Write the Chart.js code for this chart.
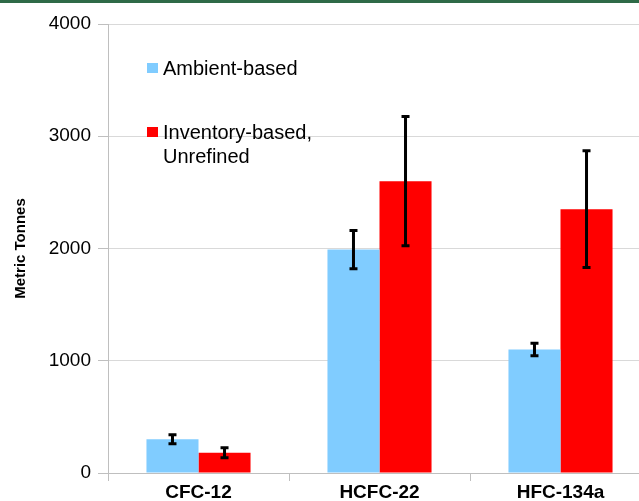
<!DOCTYPE html>
<html lang="en">
<head>
    <meta charset="UTF-8">
    <title>Metric Tonnes</title>
    <script src="https://cdn.jsdelivr.net/npm/chart.js@4.4.0/dist/chart.umd.min.js"></script>
    <style>
        body { margin: 0; overflow: hidden; background: #fff; }
        #topo { position: absolute; left: 0; top: 0; width: 639px; height: 3px; background: #2e6a47; z-index: 2; }
        #caixa { position: absolute; left: 0; top: 0; width: 652px; height: 501px; }
    </style>
</head>
<body>
<div id="topo"></div>
<div id="caixa"><canvas id="grafico" width="652" height="501"></canvas></div>

<script>
// dados
var categorias = ['CFC-12', 'HCFC-22', 'HFC-134a'];
var ambiente = [300, 1990, 1100];
var erroAmbiente = [40, 170, 55];
var inventario = [180, 2600, 2350];
var erroInventario = [45, 575, 520];
var ticksY = [0, 1000, 2000, 3000, 4000];
var nomesSeries = ['Ambient-based', ['Inventory-based,', 'Unrefined']];

// barras de erro desenhadas com a escala do grafico
var barrasErro = {
    id: 'barrasErro',
    afterDatasetsDraw: function(chart) {
        var ctx = chart.ctx;
        var y = chart.scales.y;
        var erros = [erroAmbiente, erroInventario];
        chart.data.datasets.forEach(function(ds, i) {
            var meta = chart.getDatasetMeta(i);
            meta.data.forEach(function(barra, j) {
                var topo = y.getPixelForValue(ds.data[j] + erros[i][j]);
                var base = y.getPixelForValue(ds.data[j] - erros[i][j]);
                ctx.save();
                ctx.strokeStyle = '#000';
                ctx.lineWidth = 3;
                ctx.beginPath();
                ctx.moveTo(barra.x, topo);
                ctx.lineTo(barra.x, base);
                ctx.moveTo(barra.x - 4, topo);
                ctx.lineTo(barra.x + 4, topo);
                ctx.moveTo(barra.x - 4, base);
                ctx.lineTo(barra.x + 4, base);
                ctx.stroke();
                ctx.restore();
            });
        });
    }
};

// legenda dentro da area do grafico
var legenda = {
    id: 'legenda',
    afterDraw: function(chart) {
        var ctx = chart.ctx;
        var area = chart.chartArea;
        var x = area.left + 39;
        var linhas = [area.top + 44, area.top + 108];
        ctx.save();
        ctx.font = '20px "Liberation Sans", Arial, sans-serif';
        ctx.textBaseline = 'middle';
        chart.data.datasets.forEach(function(ds, i) {
            ctx.fillStyle = ds.backgroundColor;
            ctx.fillRect(x, linhas[i] - 5, 11, 10);
            ctx.fillStyle = '#000';
            var texto = [].concat(nomesSeries[i]);
            texto.forEach(function(t, k) {
                ctx.fillText(t, x + 16, linhas[i] + 1 + k * 24);
            });
        });
        ctx.restore();
    }
};

var ctx = document.getElementById('grafico').getContext('2d');
var grafico = new Chart(ctx, {
    type: 'bar',
    data: {
        labels: categorias,
        datasets: [{
            label: 'Ambient-based',
            data: ambiente,
            backgroundColor: '#80ccff'
        }, {
            label: 'Inventory-based, Unrefined',
            data: inventario,
            backgroundColor: '#ff0000'
        }]
    },
    options: {
        responsive: false,
        animation: false,
        layout: { padding: { top: 24, left: 0, right: 1, bottom: 0 } },
        datasets: { bar: { categoryPercentage: 0.575, barPercentage: 1.0 } },
        plugins: {
            legend: { display: false },
            tooltip: { enabled: false }
        },
        scales: {
            x: {
                grid: { display: true, drawOnChartArea: false, offset: true, tickLength: 8, color: '#bfbfbf' },
                border: { color: '#bfbfbf' },
                ticks: {
                    color: '#000',
                    padding: 0,
                    font: { family: '"Liberation Sans", Arial, sans-serif', size: 19, weight: 'bold' }
                },
                afterFit: function(escala) { escala.height = 28; }
            },
            y: {
                min: 0,
                max: 4000,
                afterBuildTicks: function(escala) {
                    escala.ticks = ticksY.map(function(v) { return { value: v }; });
                },
                grid: { color: '#d9d9d9', tickLength: 10, tickColor: '#bfbfbf' },
                border: { color: '#bfbfbf' },
                ticks: {
                    color: '#000',
                    padding: 7,
                    callback: function(v) { return String(v); },
                    font: { family: '"Liberation Sans", Arial, sans-serif', size: 19 }
                },
                title: {
                    display: true,
                    text: 'Metric Tonnes',
                    color: '#000',
                    padding: { top: 12, bottom: 0 },
                    font: { family: '"Liberation Sans", Arial, sans-serif', size: 15, weight: 'bold' }
                },
                afterFit: function(escala) { escala.width = 108; }
            }
        }
    },
    plugins: [barrasErro, legenda]
});
</script>
</body>
</html>
